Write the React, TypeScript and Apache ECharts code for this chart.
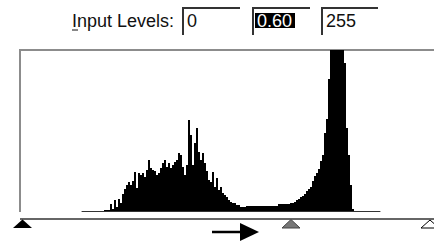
import React, { useEffect, useRef } from "react";
import * as echarts from "echarts";

// Histogram bin counts (2-px bins, scaled so the frame top = 161)
const histogram: number[] = [
  0, 0, 0, 0, 0, 0, 0, 0, 0, 0,
  0, 1, 1, 1, 7, 2, 11, 4, 12, 8,
  17, 22, 26, 29, 26, 30, 39, 23, 38, 36,
  38, 34, 41, 51, 43, 41, 40, 36, 38, 43,
  48, 51, 44, 48, 43, 46, 49, 51, 58, 56,
  44, 36, 46, 91, 76, 46, 68, 83, 59, 51,
  58, 48, 40, 31, 29, 39, 24, 33, 21, 24,
  18, 16, 14, 11, 9, 8, 8, 6, 6, 4,
  4, 4, 5, 5, 5, 5, 5, 5, 5, 5,
  5, 5, 5, 5, 5, 5, 5, 5, 7, 7,
  7, 7, 7, 7, 8, 8, 9, 11, 12, 14,
  15, 17, 20, 22, 24, 30, 35, 38, 42, 50,
  56, 78, 92, 132, 170, 170, 170, 170, 170, 170,
  170, 148, 83, 56, 26, 2, 0, 0, 0, 0,
  0, 0, 0, 0, 0, 0, 0, 0, 0,
];
const bins: string[] = histogram.map((_, i) => String(i));

const inputLabel = "Input Levels:";
const inputValues: string[] = ["0", "0.60", "255"];

export default function App() {
  const ref = useRef<HTMLDivElement>(null);
  useEffect(() => {
    if (!ref.current) return;
    const chart = echarts.init(ref.current, null, { renderer: "svg" });
    const font = "Liberation Sans, Arial, sans-serif";
    const boxes = [
      { x0: 183, x1: 240 },
      { x0: 253, x1: 310 },
      { x0: 322, x1: 378 },
    ];
    const graphics: any[] = [];
    // Histogram frame
    graphics.push({
      type: "polyline",
      shape: { points: [[20, 212], [20, 50], [434, 50]] },
      style: { stroke: "#8c8c8c", lineWidth: 2, fill: "none" },
    });
    // Label
    graphics.push({
      type: "text",
      x: 72,
      y: 21,
      style: { text: inputLabel, font: `18px ${font}`, fill: "#111", textVerticalAlign: "middle" },
    });
    graphics.push({
      type: "line",
      shape: { x1: 72, y1: 30, x2: 78, y2: 30 },
      style: { stroke: "#111", lineWidth: 1 },
    });
    // Input boxes
    boxes.forEach((b, i) => {
      graphics.push({
        type: "polyline",
        shape: { points: [[b.x0, 35], [b.x0, 8], [b.x1, 8]] },
        style: { stroke: "#333", lineWidth: 2, fill: "none" },
      });
      if (i === 1) {
        graphics.push({
          type: "rect",
          shape: { x: 255, y: 13, width: 40, height: 15 },
          style: { fill: "#000" },
        });
      }
      graphics.push({
        type: "text",
        x: i === 1 ? 257 : b.x0 + 4,
        y: 21,
        style: {
          text: inputValues[i],
          font: `18px ${font}`,
          fill: i === 1 ? "#fff" : "#111",
          textVerticalAlign: "middle",
        },
      });
    });
    // Slider
    graphics.push({
      type: "line",
      shape: { x1: 20, y1: 219, x2: 434, y2: 219 },
      style: { stroke: "#333", lineWidth: 1.5 },
    });
    graphics.push({
      type: "polygon",
      shape: { points: [[22.5, 219.5], [13, 228], [32, 228]] },
      style: { fill: "#000" },
    });
    graphics.push({
      type: "polygon",
      shape: { points: [[291, 219.5], [282, 228], [300, 228]] },
      style: { fill: "#777", stroke: "#444", lineWidth: 1 },
    });
    graphics.push({
      type: "polygon",
      shape: { points: [[430, 220], [421, 228], [439, 228]] },
      style: { fill: "#fff", stroke: "#000", lineWidth: 1 },
    });
    // Arrow
    graphics.push({
      type: "line",
      shape: { x1: 212, y1: 232, x2: 242, y2: 232 },
      style: { stroke: "#000", lineWidth: 2.5 },
    });
    graphics.push({
      type: "polygon",
      shape: { points: [[240, 223], [259, 232], [240, 241]] },
      style: { fill: "#000" },
    });

    chart.setOption({
      animation: false,
      backgroundColor: "#fff",
      grid: { left: 82, right: 54, top: 50, bottom: 30 },
      xAxis: {
        type: "category",
        data: bins,
        axisLine: { show: true, lineStyle: { color: "#333", width: 1 } },
        axisTick: { show: false },
        axisLabel: { show: false },
        splitLine: { show: false },
      },
      yAxis: {
        type: "value",
        min: 0,
        max: 161,
        show: false,
        splitLine: { show: false },
      },
      series: [
        {
          type: "bar",
          data: histogram,
          barCategoryGap: "0%",
          itemStyle: { color: "#000" },
          clip: true,
        },
      ],
      graphic: graphics,
    });
    return () => chart.dispose();
  }, []);
  return (
    <div
      ref={ref}
      style={{ position: "fixed", left: 0, top: 0, width: 434, height: 241, background: "#fff" }}
    />
  );
}
